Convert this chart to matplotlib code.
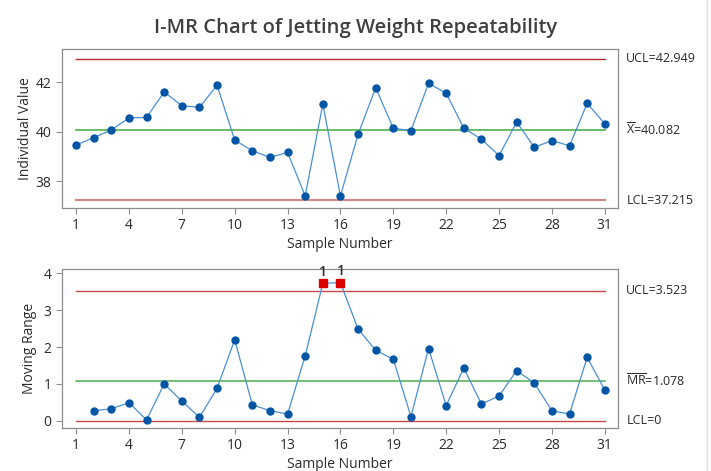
import numpy as np
import matplotlib
matplotlib.use('Agg')
import matplotlib.pyplot as plt
from matplotlib.lines import Line2D

plt.rcParams['font.family'] = ['Open Sans', 'DejaVu Sans']
plt.rcParams['mathtext.fontset'] = 'custom'
plt.rcParams['mathtext.rm'] = 'Open Sans'

# data
samples = list(range(1, 32))
individual = [39.46, 39.76, 40.07, 40.56, 40.58, 41.61, 41.05, 40.99, 41.88, 39.66,
              39.23, 38.96, 39.16, 37.40, 41.12, 37.40, 39.89, 41.78, 40.14, 40.04,
              41.96, 41.56, 40.14, 39.70, 39.03, 40.39, 39.37, 39.64, 39.43, 41.15,
              40.32]
mr_samples = list(range(2, 32))
moving_range = [0.27, 0.32, 0.49, 0.02, 1.00, 0.53, 0.09, 0.88, 2.20, 0.43,
                0.27, 0.18, 1.76, 3.73, 3.75, 2.49, 1.91, 1.67, 0.11, 1.96,
                0.41, 1.43, 0.45, 0.67, 1.36, 1.02, 0.27, 0.18, 1.72, 0.83]
i_ucl, i_cl, i_lcl = 42.949, 40.082, 37.215
mr_ucl, mr_cl, mr_lcl = 3.523, 1.078, 0.0
out_of_control = [15, 16]
xticks = [1, 4, 7, 10, 13, 16, 19, 22, 25, 28, 31]

dot_col = '#0055a5'
line_col = '#4a8fd6'
txt_col = '#2b2b2b'
spine_col = '#8c8c8c'

fig = plt.figure(figsize=(7.11, 4.71), dpi=100)
W, H = 711, 471
ax1 = fig.add_axes([62 / W, 1 - 208 / H, 556 / W, 159 / H])
ax2 = fig.add_axes([62 / W, 1 - 428 / H, 556 / W, 159 / H])

fig.text(0.5, 1 - 28 / H, 'I-MR Chart of Jetting Weight Repeatability',
         ha='center', va='center', fontsize=14.5, color='#404040', fontweight='semibold')


def style(ax):
    for s in ax.spines.values():
        s.set_color(spine_col)
        s.set_linewidth(0.9)
    ax.set_xticks(xticks)
    ax.set_xlim(0.2, 31.75)
    ax.tick_params(colors=txt_col, labelsize=10, length=4, color=spine_col)
    ax.set_xlabel('Sample Number', fontsize=10, color=txt_col)
    ax.xaxis.set_label_coords(0.5, -0.18)


# individual chart
ax1.plot([1, 31], [i_ucl, i_ucl], color='#b22a2a', lw=1.0)
ax1.plot([1, 31], [i_cl, i_cl], color='#5cb85c', lw=1.3)
ax1.plot([1, 31], [i_lcl, i_lcl], color='#d48a8a', lw=1.6)
ax1.plot(samples, individual, color=line_col, lw=0.9, marker='o', ms=5,
         mfc=dot_col, mec=dot_col)
ax1.set_ylim(36.91, 43.35)
ax1.set_yticks([38, 40, 42])
ax1.set_ylabel('Individual Value', fontsize=10, color=txt_col)
ax1.yaxis.set_label_coords(-0.052, 0.5)
style(ax1)
ax1.text(1.015, i_ucl, 'UCL=42.949', transform=ax1.get_yaxis_transform(),
         va='center', fontsize=9, color=txt_col)
ax1.text(1.015, i_cl, r'$\overline{\mathrm{X}}$=40.082', transform=ax1.get_yaxis_transform(),
         va='center', fontsize=9, color=txt_col)
ax1.text(1.015, i_lcl, 'LCL=37.215', transform=ax1.get_yaxis_transform(),
         va='center', fontsize=9, color=txt_col)

# moving range chart
ax2.plot([1, 31], [mr_ucl, mr_ucl], color='#c24a4a', lw=1.0)
ax2.plot([1, 31], [mr_cl, mr_cl], color='#4caf50', lw=1.1)
ax2.plot([1, 31], [mr_lcl, mr_lcl], color='#c24a4a', lw=1.0)
ax2.plot(mr_samples, moving_range, color=line_col, lw=0.9, marker='o', ms=5,
         mfc=dot_col, mec=dot_col)
for s in out_of_control:
    v = moving_range[mr_samples.index(s)]
    ax2.plot(s, v, marker='s', ms=5.5, mfc='#dd0000', mec='#dd0000', ls='none')
    ax2.text(s, v + 0.12, '1', ha='center', va='bottom', fontsize=10,
             color=txt_col, fontweight='semibold')
ax2.set_ylim(-0.2, 4.12)
ax2.set_yticks([0, 1, 2, 3, 4])
ax2.set_ylabel('Moving Range', fontsize=10, color=txt_col)
ax2.yaxis.set_label_coords(-0.045, 0.5)
style(ax2)
ax2.text(1.015, mr_ucl, 'UCL=3.523', transform=ax2.get_yaxis_transform(),
         va='center', fontsize=9, color=txt_col)
ax2.text(1.015, mr_cl, r'$\overline{\mathrm{MR}}$=1.078', transform=ax2.get_yaxis_transform(),
         va='center', fontsize=9, color=txt_col)
ax2.text(1.015, mr_lcl, 'LCL=0', transform=ax2.get_yaxis_transform(),
         va='center', fontsize=9, color=txt_col)

# faint frame line on the right edge
fig.add_artist(Line2D([707 / W, 707 / W], [0, 1], color='#dddddd', lw=1))

fig.savefig('out.png', dpi=100)
